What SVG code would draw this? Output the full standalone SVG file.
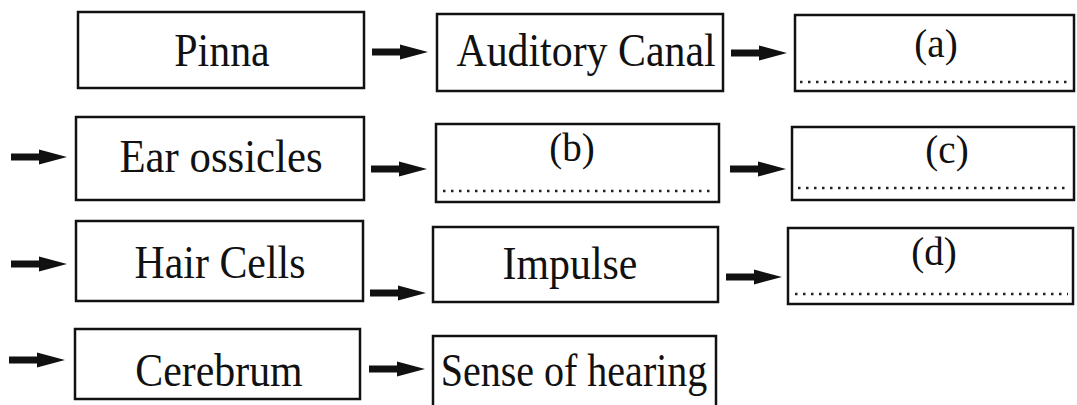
<svg xmlns="http://www.w3.org/2000/svg" xmlns:xlink="http://www.w3.org/1999/xlink" width="1077" height="405" viewBox="0 0 1077 405">
<style>
.box{fill:#fff;stroke:#111;stroke-width:2.5}
.t{font-family:"Liberation Serif","Times New Roman",serif;font-size:46px;fill:#111;text-anchor:middle}
.l{font-family:"Liberation Serif","Times New Roman",serif;font-size:39px;fill:#111;text-anchor:middle}
.dot{stroke:#222;stroke-width:2.5;stroke-dasharray:2.5 5.5;fill:none}
.arr{fill:#111}
</style>
<defs>
<path id="arr" class="arr" d="M-56,-3.5 L-28,-3.5 L-28,-7.5 L0,0 L-28,7.5 L-28,3.5 L-56,3.5 Z"/>
</defs>
<rect width="1077" height="405" fill="#fff"/>
<g id="connectors">
<use xlink:href="#arr" transform="translate(428,52)"/>
<use xlink:href="#arr" transform="translate(787,53)"/>
<use xlink:href="#arr" transform="translate(67,157)"/>
<use xlink:href="#arr" transform="translate(427,169)"/>
<use xlink:href="#arr" transform="translate(786,169)"/>
<use xlink:href="#arr" transform="translate(67,264)"/>
<use xlink:href="#arr" transform="translate(426,293)"/>
<use xlink:href="#arr" transform="translate(782,277)"/>
<use xlink:href="#arr" transform="translate(65,360)"/>
<use xlink:href="#arr" transform="translate(425,369)"/>
</g>
<g id="pinna"><rect class="box" x="78" y="12" width="286" height="76"/><text class="t" transform="translate(222,66) scale(0.91,1)">Pinna</text></g>
<g id="auditory-canal"><rect class="box" x="437" y="14" width="286" height="77"/><text class="t" transform="translate(586,66) scale(0.91,1)">Auditory Canal</text></g>
<g id="a"><rect class="box" x="795" y="15" width="279" height="76"/><text class="l" x="936" y="57">(a)</text><line class="dot" x1="800" y1="82" x2="1068" y2="82"/></g>
<g id="ear-ossicles"><rect class="box" x="76" y="117" width="288" height="83"/><text class="t" transform="translate(221,172) scale(0.93,1)">Ear ossicles</text></g>
<g id="b"><rect class="box" x="436" y="124" width="283" height="78"/><text class="l" x="572" y="161">(b)</text><line class="dot" x1="443" y1="191" x2="713" y2="191"/></g>
<g id="c"><rect class="box" x="792" y="127" width="282" height="73"/><text class="l" x="947" y="163">(c)</text><line class="dot" x1="798" y1="188" x2="1068" y2="188"/></g>
<g id="hair-cells"><rect class="box" x="76" y="221" width="287" height="80"/><text class="t" transform="translate(220,278) scale(0.91,1)">Hair Cells</text></g>
<g id="impulse"><rect class="box" x="433" y="227" width="285" height="75"/><text class="t" transform="translate(570,279) scale(0.91,1)">Impulse</text></g>
<g id="d"><rect class="box" x="788" y="228" width="285" height="76"/><text class="l" x="934" y="265">(d)</text><line class="dot" x1="795" y1="294" x2="1068" y2="294"/></g>
<g id="cerebrum"><rect class="box" x="75" y="329" width="285" height="70"/><text class="t" transform="translate(219,386) scale(0.91,1)">Cerebrum</text></g>
<g id="sense-of-hearing"><rect class="box" x="433" y="336" width="283" height="80"/><text class="t" transform="translate(574,386) scale(0.87,1)">Sense of hearing</text></g>
</svg>
